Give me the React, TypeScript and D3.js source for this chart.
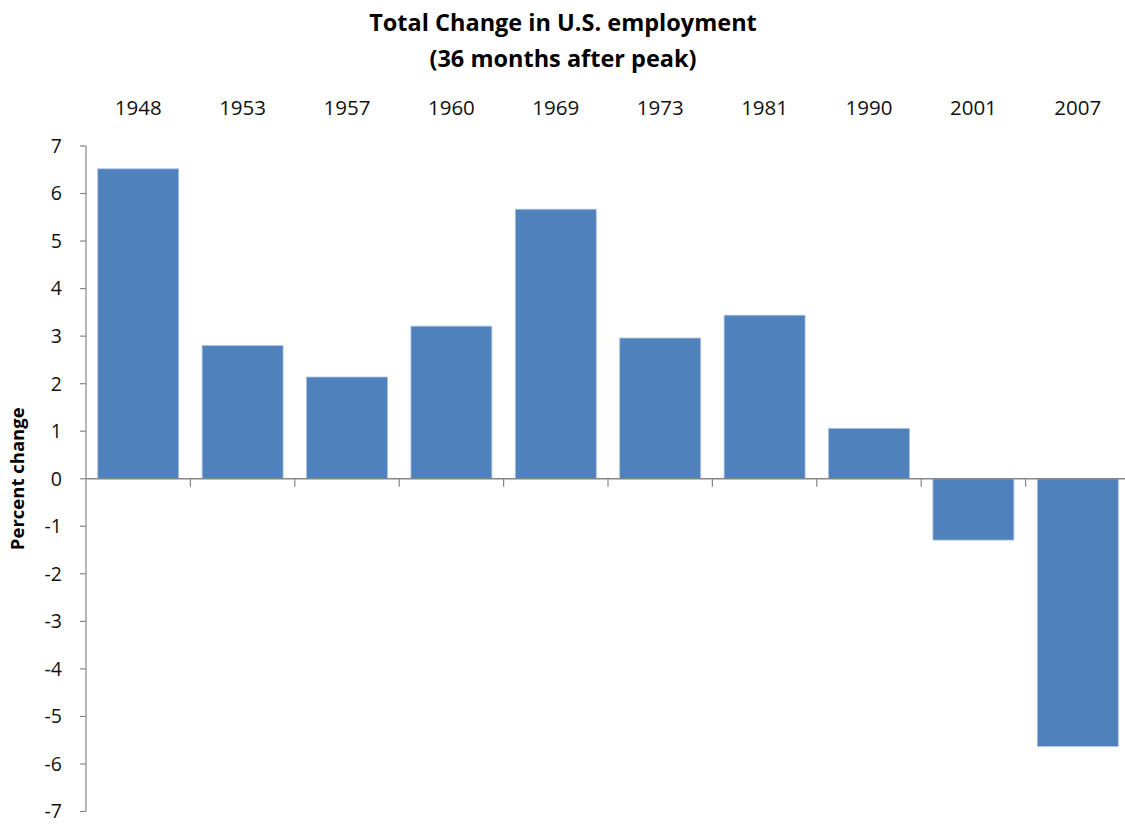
import { useEffect, useRef } from "react";
import * as d3 from "d3";

const years = ["1948", "1953", "1957", "1960", "1969", "1973", "1981", "1990", "2001", "2007"];
const change = [6.52, 2.8, 2.14, 3.21, 5.67, 2.96, 3.44, 1.06, -1.29, -5.63];
const yTicks = [7, 6, 5, 4, 3, 2, 1, 0, -1, -2, -3, -4, -5, -6, -7];

export default function App() {
  const ref = useRef<SVGSVGElement | null>(null);

  useEffect(() => {
    if (!ref.current) return;
    const width = 1125;
    const height = 827;
    const font = "'Open Sans', 'Noto Sans', sans-serif";

    const svg = d3.select(ref.current).attr("viewBox", `0 0 ${width} ${height}`);
    svg.selectAll("*").remove();

    const x = d3.scaleBand().domain(years).range([86, 1130]).paddingInner(0.225).paddingOuter(0.1125);
    const y = d3.scaleLinear().domain([-7, 7]).range([811.5, 146]);

    /* ---------------- TITLE ---------------- */
    svg.append("text")
      .attr("x", 563).attr("y", 31)
      .attr("text-anchor", "middle")
      .attr("font-family", font).attr("font-weight", "bold").attr("font-size", 23.5)
      .text("Total Change in U.S. employment");
    svg.append("text")
      .attr("x", 563).attr("y", 67)
      .attr("text-anchor", "middle")
      .attr("font-family", font).attr("font-weight", "bold").attr("font-size", 23.5)
      .text("(36 months after peak)");

    /* ---------------- BARS ---------------- */
    svg.selectAll(".bar")
      .data(change)
      .enter()
      .append("rect")
      .attr("x", (_, i) => x(years[i])!)
      .attr("width", x.bandwidth())
      .attr("y", d => y(Math.max(0, d)))
      .attr("height", d => Math.abs(y(d) - y(0)))
      .attr("fill", "#4F81BD")
      .attr("stroke", "#A9C1E0")
      .attr("stroke-width", 0.8);

    /* ---------------- AXES ---------------- */
    const axisColor = "#868686";
    svg.append("line")
      .attr("x1", 86).attr("x2", 86)
      .attr("y1", y(7)).attr("y2", y(-7))
      .attr("stroke", axisColor).attr("stroke-width", 1.2);

    svg.selectAll(".ytick")
      .data(yTicks)
      .enter()
      .append("line")
      .attr("x1", 80).attr("x2", 86)
      .attr("y1", d => y(d)).attr("y2", d => y(d))
      .attr("stroke", axisColor).attr("stroke-width", 1.2);

    svg.selectAll(".ylabel")
      .data(yTicks)
      .enter()
      .append("text")
      .attr("x", 62)
      .attr("y", d => y(d))
      .attr("dy", "0.35em")
      .attr("text-anchor", "end")
      .attr("font-family", font).attr("font-size", 19.5)
      .attr("fill", "#111")
      .text(d => String(d));

    svg.append("line")
      .attr("x1", 86).attr("x2", width)
      .attr("y1", y(0)).attr("y2", y(0))
      .attr("stroke", axisColor).attr("stroke-width", 1.5);

    const step = x.step();
    svg.selectAll(".xtick")
      .data(years.slice(1))
      .enter()
      .append("line")
      .attr("x1", (_, i) => 86 + (i + 1) * step)
      .attr("x2", (_, i) => 86 + (i + 1) * step)
      .attr("y1", y(0)).attr("y2", y(0) + 8)
      .attr("stroke", axisColor).attr("stroke-width", 1.2);

    svg.selectAll(".xlabel")
      .data(years)
      .enter()
      .append("text")
      .attr("x", d => x(d)! + x.bandwidth() / 2)
      .attr("y", 115)
      .attr("text-anchor", "middle")
      .attr("font-family", font).attr("font-size", 20.5)
      .attr("fill", "#111")
      .text(d => d);

    svg.append("text")
      .attr("transform", `translate(24, ${y(0)}) rotate(-90)`)
      .attr("text-anchor", "middle")
      .attr("font-family", font).attr("font-weight", "bold").attr("font-size", 18.5)
      .text("Percent change");
  }, []);

  return (
    <svg
      ref={ref}
      style={{ position: "absolute", left: 0, top: 0, width: "1125px", height: "827px", display: "block" }}
    />
  );
}
